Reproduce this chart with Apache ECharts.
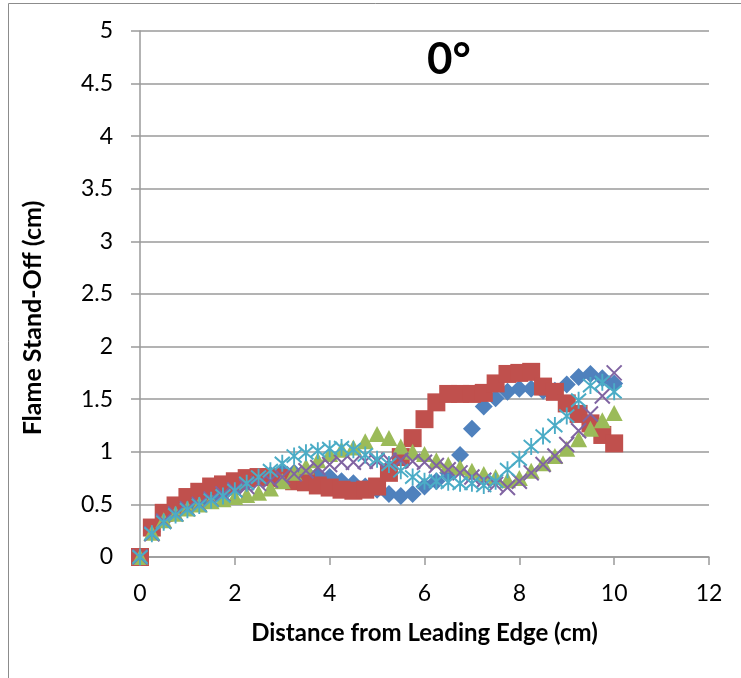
<!DOCTYPE html>
<html><head><meta charset="utf-8">
<script src="https://cdn.jsdelivr.net/npm/echarts@6/dist/echarts.min.js"></script>
<style>html,body{margin:0;padding:0;background:#fff}#c{width:741px;height:678px}</style>
</head><body><div id="c"></div>
<script>
const xs = [0,0.25,0.5,0.75,1,1.25,1.5,1.75,2,2.25,2.5,2.75,3,3.25,3.5,3.75,4,4.25,4.5,4.75,5,5.25,5.5,5.75,6,6.25,6.5,6.75,7,7.25,7.5,7.75,8,8.25,8.5,8.75,9,9.25,9.5,9.75,10];
const blueVals = [0,0.24,0.35,0.42,0.47,0.52,0.56,0.6,0.64,0.7,0.75,0.78,0.8,0.8,0.8,0.78,0.76,0.72,0.7,0.67,0.64,0.6,0.58,0.6,0.67,0.72,0.8,0.97,1.22,1.43,1.51,1.57,1.6,1.6,1.58,1.58,1.64,1.71,1.74,1.7,1.65];
const redVals = [0,0.28,0.42,0.49,0.57,0.62,0.67,0.69,0.72,0.75,0.76,0.76,0.75,0.72,0.71,0.68,0.66,0.64,0.63,0.64,0.67,0.8,0.95,1.13,1.31,1.47,1.55,1.55,1.55,1.56,1.65,1.74,1.75,1.76,1.62,1.57,1.46,1.36,1.27,1.16,1.08];
const greenVals = [0,0.23,0.35,0.41,0.46,0.5,0.53,0.55,0.57,0.59,0.61,0.65,0.72,0.8,0.86,0.92,0.98,1.02,1.04,1.1,1.17,1.13,1.05,1.0,0.98,0.92,0.88,0.85,0.82,0.79,0.76,0.73,0.75,0.82,0.89,0.96,1.03,1.12,1.22,1.3,1.37];
const purpleVals = [0,0.22,0.34,0.41,0.46,0.5,0.55,0.6,0.64,0.67,0.7,0.73,0.76,0.79,0.82,0.85,0.88,0.9,0.9,0.91,0.91,0.92,0.92,0.91,0.9,0.87,0.83,0.8,0.76,0.73,0.69,0.66,0.72,0.8,0.88,0.96,1.07,1.2,1.36,1.53,1.75];
const cyanVals = [0,0.22,0.33,0.4,0.45,0.49,0.54,0.58,0.63,0.7,0.76,0.82,0.89,0.96,0.99,1.01,1.03,1.04,1.02,0.97,0.93,0.88,0.82,0.76,0.72,0.72,0.71,0.7,0.7,0.68,0.72,0.83,0.93,1.05,1.15,1.25,1.34,1.49,1.63,1.66,1.57];
const yTicks = {min:0, max:5, interval:0.5};
const xTicks = {min:0, max:12, interval:2};
const xTitle = 'Distance from Leading Edge (cm)';
const yTitle = 'Flame Stand-Off (cm)';
const chartTitle = '0°';

const pairs = v => xs.map((x,i)=>[x, v[i]]);
const FONT = 'Lato';
const grey = '#9a9a9a';

const chart = echarts.init(document.getElementById('c'), null, {renderer:'canvas'});
chart.setOption({
  animation:false,
  backgroundColor:'#fff',
  graphic:[
    {type:'rect', shape:{x:8.5,y:3.5,width:760,height:700}, style:{fill:'none', stroke:'#8c8c8c', lineWidth:1}, silent:true, z:-10},
    {type:'text', x:33, y:318, rotation:Math.PI/2, style:{text:yTitle, fontFamily:FONT, fontWeight:'bold', fontSize:25, fill:'#000', align:'center', verticalAlign:'middle'}, silent:true}
  ],
  title:{text:chartTitle, left:444, top:33, textAlign:'center', textStyle:{fontFamily:FONT, fontWeight:'bold', fontSize:44, color:'#000'}},
  grid:{left:140, right:32, top:31, bottom:121, containLabel:false},
  xAxis:{type:'value', min:xTicks.min, max:xTicks.max, interval:xTicks.interval,
    name:xTitle, nameLocation:'middle', nameGap:64,
    nameTextStyle:{fontFamily:FONT, fontWeight:'bold', fontSize:24, color:'#000'},
    axisLine:{show:true, onZero:false, lineStyle:{color:grey, width:1.5}},
    axisTick:{show:true, length:8, lineStyle:{color:grey, width:1.5}},
    axisLabel:{fontFamily:FONT, fontSize:23, color:'#000', margin:25},
    splitLine:{show:false}},
  yAxis:{type:'value', min:yTicks.min, max:yTicks.max, interval:yTicks.interval,
    axisLine:{show:true, lineStyle:{color:grey, width:1.5}},
    axisTick:{show:true, length:9, lineStyle:{color:grey, width:1.5}},
    axisLabel:{fontFamily:FONT, fontSize:23, color:'#000', margin:27},
    splitLine:{show:true, lineStyle:{color:grey, width:1.5}}},
  series:[
    {type:'scatter', name:'A', data:pairs(blueVals), symbol:'diamond', symbolSize:[18,18], itemStyle:{color:'#4F81BD', opacity:1}, silent:true, z:1},
    {type:'scatter', name:'B', data:pairs(redVals), symbol:'rect', symbolSize:[18,18], itemStyle:{color:'#C0504D', opacity:1}, silent:true, z:2},
    {type:'scatter', name:'C', data:pairs(greenVals), symbol:'triangle', symbolSize:[17,16], itemStyle:{color:'#9BBB59', opacity:1}, silent:true, z:3},
    {type:'scatter', name:'D', data:pairs(purpleVals), symbol:'path://M0,0L10,10M10,0L0,10', symbolSize:[15,15], itemStyle:{color:'transparent', borderColor:'#8064A2', borderWidth:2, opacity:1}, silent:true, z:4},
    {type:'scatter', name:'E', data:pairs(cyanVals), symbol:'path://M0,0L10,10M10,0L0,10M5,-1.5L5,11.5', symbolSize:[15,17], itemStyle:{color:'transparent', borderColor:'#4BACC6', borderWidth:2, opacity:1}, silent:true, z:5}
  ]
});
</script></body></html>
